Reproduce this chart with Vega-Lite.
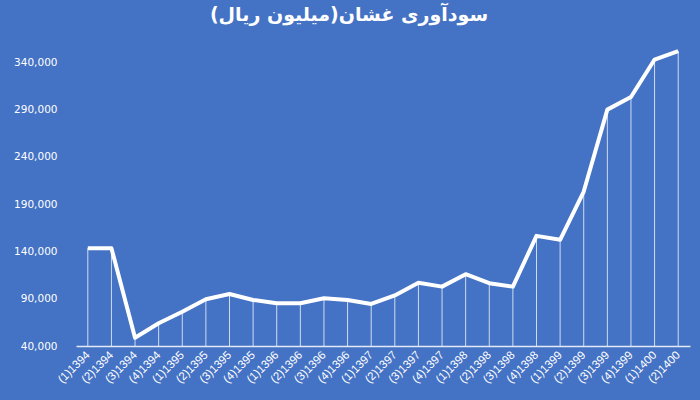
{
  "$schema": "https://vega.github.io/schema/vega-lite/v6.json",
  "width": 614,
  "height": 312,
  "autosize": {"type": "none"},
  "padding": {"left": 76, "top": 34, "right": 10, "bottom": 54},
  "background": "#4472C4",
  "title": {
    "text": "سودآوری غشان(میلیون ریال)",
    "font": "DejaVu Sans",
    "fontSize": 19,
    "fontWeight": "bold",
    "color": "white",
    "anchor": "middle",
    "dx": -34,
    "offset": 9
  },
  "config": {"view": {"stroke": null}},
  "data": {
    "values": [
      {"q": "(1)1394", "v": 143500},
      {"q": "(2)1394", "v": 143500},
      {"q": "(3)1394", "v": 48700},
      {"q": "(4)1394", "v": 64000},
      {"q": "(1)1395", "v": 76300},
      {"q": "(2)1395", "v": 89500},
      {"q": "(3)1395", "v": 95000},
      {"q": "(4)1395", "v": 88700},
      {"q": "(1)1396", "v": 85200},
      {"q": "(2)1396", "v": 85200},
      {"q": "(3)1396", "v": 90500},
      {"q": "(4)1396", "v": 88700},
      {"q": "(1)1397", "v": 84500},
      {"q": "(2)1397", "v": 93500},
      {"q": "(3)1397", "v": 107000},
      {"q": "(4)1397", "v": 102800},
      {"q": "(1)1398", "v": 115900},
      {"q": "(2)1398", "v": 106400},
      {"q": "(3)1398", "v": 102800},
      {"q": "(4)1398", "v": 156500},
      {"q": "(1)1399", "v": 152300},
      {"q": "(2)1399", "v": 203400},
      {"q": "(3)1399", "v": 290000},
      {"q": "(4)1399", "v": 303400},
      {"q": "(1)1400", "v": 343000},
      {"q": "(2)1400", "v": 352000}
    ]
  },
  "encoding": {
    "x": {
      "field": "q",
      "type": "ordinal",
      "sort": null,
      "scale": {"type": "point", "padding": 0.5},
      "axis": {
        "title": null,
        "labelAngle": -45,
        "labelAlign": "right",
        "labelBaseline": "middle",
        "labelColor": "white",
        "labelFont": "Liberation Sans",
        "labelFontSize": 11.5,
        "labelPadding": 7,
        "labelOverlap": false,
        "ticks": false,
        "domainColor": "white",
        "domainWidth": 1.5,
        "domainOpacity": 0.85,
        "grid": false
      }
    }
  },
  "layer": [
    {
      "mark": {"type": "rule", "color": "white", "strokeWidth": 1, "opacity": 0.75},
      "encoding": {
        "y": {
          "field": "v",
          "type": "quantitative",
          "scale": {"domain": [40000, 370000], "nice": false, "zero": false},
          "axis": {
            "title": null,
            "values": [40000, 90000, 140000, 190000, 240000, 290000, 340000],
            "format": ",d",
            "labelColor": "white",
            "labelFont": "DejaVu Sans",
            "labelFontSize": 10.5,
            "labelPadding": 19,
            "ticks": false,
            "domain": false,
            "grid": false
          }
        },
        "y2": {"datum": 40000}
      }
    },
    {
      "mark": {"type": "line", "color": "white", "strokeWidth": 4, "strokeJoin": "round"},
      "encoding": {
        "y": {"field": "v", "type": "quantitative"}
      }
    }
  ]
}
